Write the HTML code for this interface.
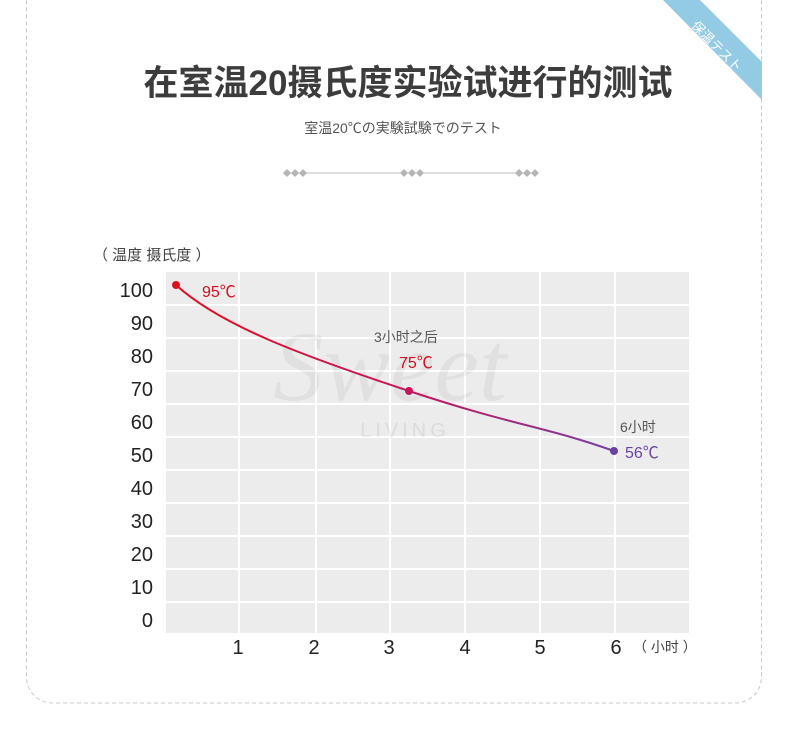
<!DOCTYPE html>
<html><head><meta charset="utf-8"><style>
html,body{margin:0;padding:0;background:#fff;}
body{width:790px;height:739px;position:relative;overflow:hidden;font-family:"Liberation Sans","Noto Sans CJK SC",sans-serif;}
</style></head><body>
<svg width="790" height="739" viewBox="0 0 790 739" xmlns="http://www.w3.org/2000/svg" style="position:absolute;left:0;top:0">
<defs>
<linearGradient id="g" x1="176" y1="0" x2="614" y2="0" gradientUnits="userSpaceOnUse">
<stop offset="0" stop-color="#e0101e"/><stop offset="0.5" stop-color="#c8145a"/><stop offset="1" stop-color="#7a3fa0"/>
</linearGradient>
<clipPath id="c"><rect x="0" y="0" width="762" height="703"/></clipPath>
</defs>
<rect x="26.5" y="-30" width="735" height="733" rx="26" fill="none" stroke="#c8c8c8" stroke-dasharray="4,3"/>
<g clip-path="url(#c)">
<polygon points="663,0 700,0 762,62 762,100" fill="#94cbe4"/>
<text x="0" y="0" transform="translate(716,47) rotate(45)" text-anchor="middle" dominant-baseline="middle" font-size="13" fill="#fff" font-family="Liberation Sans, Noto Sans CJK JP, sans-serif">保温テスト</text>
</g>
<text x="408" y="95" text-anchor="middle" font-size="35" font-weight="bold" fill="#3c3c3c" font-family="Liberation Sans, Noto Sans CJK SC, sans-serif">在室温20摄氏度实验试进行的测试</text>
<text x="403" y="133" text-anchor="middle" font-size="14" fill="#555" font-family="Liberation Sans, Noto Sans CJK JP, sans-serif">室温20℃の実験試験でのテスト</text>
<line x1="283" y1="173" x2="535" y2="173" stroke="#bbb" stroke-width="1"/>
<g fill="#b5b5b5">
<path d="M283 173l4-4 4 4-4 4z M291 173l4-4 4 4-4 4z M299 173l4-4 4 4-4 4z"/>
<path d="M400 173l4-4 4 4-4 4z M408 173l4-4 4 4-4 4z M416 173l4-4 4 4-4 4z"/>
<path d="M515 173l4-4 4 4-4 4z M523 173l4-4 4 4-4 4z M531 173l4-4 4 4-4 4z"/>
</g>
<text x="93" y="260" font-size="15" fill="#444" font-family="Liberation Sans, Noto Sans CJK SC, sans-serif">（ 温度 摄氏度 ）</text>
<rect x="166" y="272" width="523" height="361" fill="#ececec"/>
<g stroke="#fff" stroke-width="2">
<line x1="166" y1="305" x2="689" y2="305"/><line x1="166" y1="338" x2="689" y2="338"/><line x1="166" y1="371" x2="689" y2="371"/><line x1="166" y1="404" x2="689" y2="404"/><line x1="166" y1="437" x2="689" y2="437"/><line x1="166" y1="470" x2="689" y2="470"/><line x1="166" y1="503" x2="689" y2="503"/><line x1="166" y1="536" x2="689" y2="536"/><line x1="166" y1="569" x2="689" y2="569"/><line x1="166" y1="602" x2="689" y2="602"/>
<line x1="239" y1="272" x2="239" y2="633"/><line x1="316" y1="272" x2="316" y2="633"/><line x1="390" y1="272" x2="390" y2="633"/><line x1="465" y1="272" x2="465" y2="633"/><line x1="540" y1="272" x2="540" y2="633"/><line x1="615" y1="272" x2="615" y2="633"/>
</g>
<text x="390" y="400" text-anchor="middle" font-size="100" font-style="italic" fill="#000" fill-opacity="0.05" font-family="Liberation Serif, serif">Sweet</text>
<text x="405" y="437" text-anchor="middle" font-size="20" letter-spacing="4" fill="#000" fill-opacity="0.07">LIVING</text>
<g font-size="20" fill="#222" text-anchor="end">
<text x="153" y="297">100</text><text x="153" y="330">90</text><text x="153" y="363">80</text><text x="153" y="396">70</text><text x="153" y="429">60</text><text x="153" y="462">50</text><text x="153" y="495">40</text><text x="153" y="528">30</text><text x="153" y="561">20</text><text x="153" y="594">10</text><text x="153" y="627">0</text>
</g>
<g font-size="20" fill="#222" text-anchor="middle">
<text x="238" y="654">1</text><text x="314" y="654">2</text><text x="389" y="654">3</text><text x="465" y="654">4</text><text x="540" y="654">5</text><text x="616" y="654">6</text>
</g>
<text x="633" y="652" font-size="14" fill="#444" font-family="Liberation Sans, Noto Sans CJK SC, sans-serif">（ 小时 ）</text>
<path d="M176 285 C220 325 300 355 409 391 S540 425 614 451" fill="none" stroke="url(#g)" stroke-width="2"/>
<circle cx="176" cy="285" r="4" fill="#e0101e"/>
<circle cx="409" cy="391" r="4" fill="#c8145a"/>
<circle cx="614" cy="451" r="4" fill="#6c42a0"/>
<text x="202" y="297" font-size="16" fill="#d01020">95℃</text>
<text x="374" y="342" font-size="14" fill="#555" font-family="Liberation Sans, Noto Sans CJK SC, sans-serif">3小时之后</text>
<text x="399" y="368" font-size="16" fill="#d01020">75℃</text>
<text x="620" y="432" font-size="14" fill="#555" font-family="Liberation Sans, Noto Sans CJK SC, sans-serif">6小时</text>
<text x="625" y="458" font-size="16" fill="#6c42a0">56℃</text>
</svg>
</body></html>
